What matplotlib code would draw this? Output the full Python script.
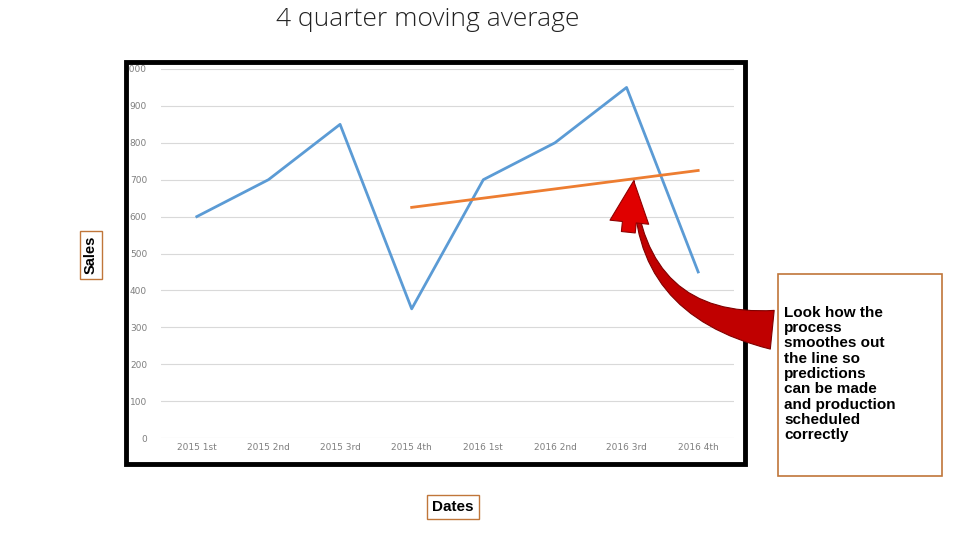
import matplotlib
matplotlib.use("Agg")
import matplotlib.pyplot as plt
from matplotlib.patches import Rectangle, FancyArrowPatch

categories = ["2015 1st", "2015 2nd", "2015 3rd", "2015 4th", "2016 1st", "2016 2nd", "2016 3rd", "2016 4th"]
sales = [600, 700, 850, 350, 700, 800, 950, 450]
ma_cats = ["2015 4th", "2016 1st", "2016 2nd", "2016 3rd", "2016 4th"]
moving_avg = [625, 650, 675, 700, 725]

fig = plt.figure(figsize=(9.6, 5.4), dpi=100)
fig.patches.append(Rectangle((126/960, 1-464/540), 619/960, 402/540, transform=fig.transFigure,
                             fill=False, edgecolor="black", linewidth=3.5))
ax = fig.add_axes([161/960, 1-438/540, 573/960, 369/540])
x = list(range(len(categories)))
ax.plot(x, sales, color="#5b9bd5", linewidth=2)
ax.plot([categories.index(c) for c in ma_cats], moving_avg, color="#ed7d31", linewidth=2)
ax.set_xlim(-0.5, 7.5)
ax.set_ylim(0, 1000)
ax.set_yticks(range(0, 1001, 100))
ax.set_xticks(x)
ax.set_xticklabels(categories)
ax.tick_params(axis="both", labelsize=6.5, colors="#7f7f7f", length=0)
ax.tick_params(axis="y", pad=10)
ax.grid(axis="y", color="#d9d9d9", linewidth=0.8)
ax.set_axisbelow(True)
for s in ax.spines.values():
    s.set_visible(False)

fig.text(428/960, 1-20/540, "4 quarter moving average", ha="center", va="center", fontsize=19,
         color="#222222", family="Open Sans", fontweight="light")
fig.text(91/960, 1-255/540, "Sales", rotation=90, ha="center", va="center", fontsize=10.5, fontweight="bold",
         family="Liberation Sans",
         bbox=dict(boxstyle="square,pad=0.3", fc="white", ec="#c0763a"))
fig.text(453/960, 1-507/540, "Dates", ha="center", va="center", fontsize=11, fontweight="bold",
         family="Liberation Sans",
         bbox=dict(boxstyle="square,pad=0.35", fc="white", ec="#c0763a"))
fig.text(784/960, 1-374/540, "Look how the\nprocess\nsmoothes out\nthe line so\npredictions\ncan be made\nand production\nscheduled\ncorrectly",
         ha="left", va="center", fontsize=11, fontweight="bold", linespacing=1.12, family="Liberation Sans")
fig.patches.append(Rectangle((778/960, 1-476/540), 164/960, 202/540, transform=fig.transFigure,
                             fill=False, edgecolor="#c0763a", linewidth=1.2))

arrow = FancyArrowPatch((775/960, 1-330/540), (634/960, 1-178/540), transform=fig.transFigure,
                        connectionstyle="arc3,rad=-0.45",
                        arrowstyle="wedge,tail_width=28,shrink_factor=0.3",
                        fc="#c00000", ec="#800000", linewidth=0.8)
fig.patches.append(arrow)
head = FancyArrowPatch((628/960, 1-235/540), (634/960, 1-178/540), transform=fig.transFigure,
                       arrowstyle="simple,head_length=30,head_width=28,tail_width=10",
                       fc="#e00000", ec="#900000", linewidth=0.8)
fig.patches.append(head)

fig.savefig("out.png", dpi=100)
